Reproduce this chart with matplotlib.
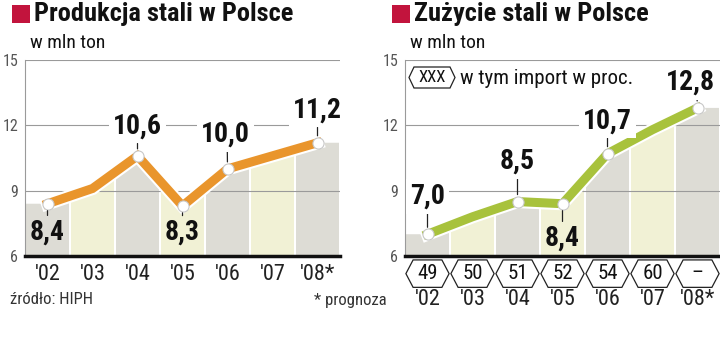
import matplotlib
matplotlib.use("Agg")
import matplotlib.pyplot as plt
import matplotlib.patheffects as pe
from matplotlib import font_manager
from matplotlib.patches import Polygon, Rectangle
from matplotlib.transforms import blended_transform_factory
import numpy as np

years = ["'02", "'03", "'04", "'05", "'06", "'07", "'08*"]
production = [8.4, 9.1, 10.6, 8.3, 10.0, 10.6, 11.2]
consumption = [7.0, 7.8, 8.5, 8.4, 10.7, 11.8, 12.8]
import_share = ["49", "50", "51", "52", "54", "60", "–"]

# which points get a value label and where it sits (pixel offset dx, dy)
prod_labels = {0: (0, -28), 2: (0, 30), 3: (0, -26), 4: (-2, 35), 6: (0, 33)}
cons_labels = {0: (0, 38), 2: (0, 40), 3: (0, -34), 4: (0, 33), 6: (-7, 26)}

names = {f.name for f in font_manager.fontManager.ttflist}
FONT = "DejaVu Sans"
for cand in ["Liberation Sans Narrow", "Roboto Condensed", "Roboto"]:
    if cand in names:
        FONT = cand
        break
plt.rcParams["font.family"] = [FONT, "DejaVu Sans"]

RED = "#c2143d"
GREY = "#dddcd5"
YELLOW = "#f1f1d5"
ORANGE = "#e9952c"
GREEN = "#a8c23c"

fig = plt.figure(figsize=(7.2, 3.37), dpi=100)


def draw_panel(left_px, values, color, labels):
    ax = fig.add_axes([left_px / 720, 81 / 337, 315 / 720, 196 / 337])
    x = np.arange(len(values))
    ax.set_xlim(-0.5, len(values) - 0.5)
    ax.set_ylim(6, 15)

    # area under line, split into alternating columns
    xs = np.concatenate([[-0.5], x, [len(values) - 0.5]])
    ys = np.concatenate([[values[0]], values, [values[-1]]])
    outline = Polygon(np.column_stack([np.concatenate([xs, xs[::-1]]),
                                       np.concatenate([ys, np.full(len(xs), 6)])]),
                      closed=True, facecolor="none", edgecolor="none")
    ax.add_patch(outline)
    bars = ax.bar(x, 9, bottom=6, width=0.94,
                  color=[GREY if i % 2 == 0 else YELLOW for i in x], zorder=1)
    for b in bars:
        b.set_clip_path(outline)

    for v in [9, 12, 15]:
        ax.axhline(v, color="#9a9a9a", lw=0.8, zorder=2)

    ax.plot(x, values, color=color, lw=6.5, solid_joinstyle="miter", zorder=4,
            path_effects=[pe.withStroke(linewidth=9.5, foreground="white")])
    ax.plot(x[list(labels)], [values[k] for k in labels], "o", ms=8,
            mfc="white", mec="#c8c8c8", mew=0.8, zorder=5)

    for k, (dx, dy) in labels.items():
        box = None
        if dy > 0:
            box = dict(boxstyle="square,pad=0.15", fc="white", ec="none")
        ax.annotate(f"{values[k]:.1f}".replace(".", ","), (x[k], values[k]),
                    xytext=(dx, dy), textcoords="offset pixels",
                    ha="center", va="center", fontsize=20, fontweight="bold",
                    color="#111111", zorder=6, bbox=box,
                    arrowprops=dict(arrowstyle="-", color="#222222", lw=0.9,
                                    relpos=(0.5 - dx / 60, 0.5),
                                    shrinkA=0, shrinkB=5))

    for s in ["top", "right"]:
        ax.spines[s].set_visible(False)
    ax.spines["left"].set_color("#9a9a9a")
    ax.spines["left"].set_linewidth(0.8)
    ax.spines["bottom"].set_color("#111111")
    ax.spines["bottom"].set_linewidth(2.5)
    ax.spines["bottom"].set_zorder(7)
    ax.set_yticks([6, 9, 12, 15])
    ax.set_yticklabels(["6", "9", "12", "15"], color="#555555", fontsize=11.5)
    ax.tick_params(axis="y", length=0, pad=5)
    ax.set_xticks([])
    return ax


axl = draw_panel(25, production, ORANGE, prod_labels)
axr = draw_panel(405, consumption, GREEN, cons_labels)

# year labels
tl = blended_transform_factory(axl.transData, axl.transAxes)
tr = blended_transform_factory(axr.transData, axr.transAxes)
for i, y in enumerate(years):
    axl.text(i, -0.095, y, transform=tl, ha="center", va="center",
             fontsize=16, color="#222222")
    axr.text(i, -0.22, y, transform=tr, ha="center", va="center",
             fontsize=16, color="#222222")


def hexagon(ax, trans, cx, ytop, ybot, half_w, tip, txt, size):
    ym = (ytop + ybot) / 2
    pts = [(cx - half_w, ym), (cx - half_w + tip, ytop), (cx + half_w - tip, ytop),
           (cx + half_w, ym), (cx + half_w - tip, ybot), (cx - half_w + tip, ybot)]
    ax.add_patch(Polygon(pts, closed=True, transform=trans, fc="white",
                         ec="#222222", lw=0.9, clip_on=False))
    ax.text(cx, ym, txt, transform=trans, ha="center", va="center",
            fontsize=size, color="#111111", clip_on=False)


for i, s in enumerate(import_share):
    hexagon(axr, tr, i, -0.02, -0.16, 0.48, 0.16, s, 15)

# legend for the hexagons
hexagon(axr, fig.transFigure, 432 / 720, 1 - 67 / 337, 1 - 88 / 337,
        23 / 720, 5 / 720, "XXX", 12)
fig.text(460 / 720, 1 - 78 / 337, "w tym import w proc.", fontsize=15,
         ha="left", va="center", color="#111111")

# titles
for x0, title in [(12, "Produkcja stali w Polsce"), (392, "Zużycie stali w Polsce")]:
    fig.patches.append(Rectangle((x0 / 720, 1 - 23 / 337), 18 / 720, 18 / 337,
                                 transform=fig.transFigure, fc=RED, ec="none"))
    fig.text((x0 + 22) / 720, 1 - 14 / 337, title, fontsize=19, fontweight="bold",
             ha="left", va="center", color="#111111")
    fig.text((x0 + 18) / 720, 1 - 43 / 337, "w mln ton", fontsize=14,
             ha="left", va="center", color="#111111")

fig.text(10 / 720, 1 - 300 / 337, "źródło: HIPH", fontsize=12, color="#333333",
         ha="left", va="center")
fig.text(387 / 720, 1 - 300 / 337, "* prognoza", fontsize=12, color="#333333",
         ha="right", va="center")

fig.savefig("out.png", dpi=100)
